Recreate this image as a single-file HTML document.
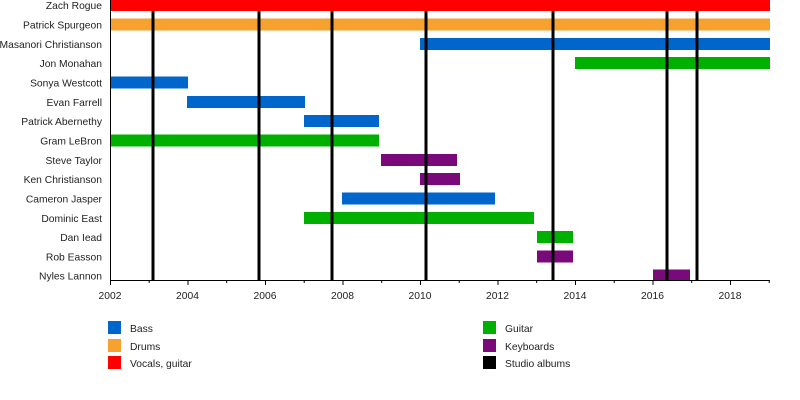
<!DOCTYPE html>
<html><head><meta charset="utf-8"><style>body{margin:0;background:#fff}svg{display:block}text{font-family:"Liberation Sans",sans-serif;font-size:10.3px;fill:#222}</style></head>
<body>
<svg width="800" height="400" xmlns="http://www.w3.org/2000/svg">
<g text-anchor="end">
<text x="102" y="9">Zach Rogue</text>
<text x="102" y="28.5">Patrick Spurgeon</text>
<text x="102" y="48">Masanori Christianson</text>
<text x="102" y="67">Jon Monahan</text>
<text x="102" y="86.5">Sonya Westcott</text>
<text x="102" y="106">Evan Farrell</text>
<text x="102" y="125">Patrick Abernethy</text>
<text x="102" y="144.5">Gram LeBron</text>
<text x="102" y="164">Steve Taylor</text>
<text x="102" y="183">Ken Christianson</text>
<text x="102" y="202.5">Cameron Jasper</text>
<text x="102" y="222">Dominic East</text>
<text x="102" y="241">Dan Iead</text>
<text x="102" y="260.5">Rob Easson</text>
<text x="102" y="279.5">Nyles Lannon</text>
</g>
<g>
<rect x="110" y="-1" width="660" height="12" fill="#ff0000"/>
<rect x="110" y="18.5" width="660" height="12" fill="#f7a12f"/>
<rect x="420" y="38" width="350" height="12" fill="#0066cc"/>
<rect x="575" y="57" width="195" height="12" fill="#00b000"/>
<rect x="110" y="76.5" width="78" height="12" fill="#0066cc"/>
<rect x="187" y="96" width="118" height="12" fill="#0066cc"/>
<rect x="304" y="115" width="75" height="12" fill="#0066cc"/>
<rect x="110" y="134.5" width="269" height="12" fill="#00b000"/>
<rect x="381" y="154" width="76" height="12" fill="#7a0a7a"/>
<rect x="420" y="173" width="40" height="12" fill="#7a0a7a"/>
<rect x="342" y="192.5" width="153" height="12" fill="#0066cc"/>
<rect x="304" y="212" width="230" height="12" fill="#00b000"/>
<rect x="537" y="231" width="36" height="12" fill="#00b000"/>
<rect x="537" y="250.5" width="36" height="12" fill="#7a0a7a"/>
<rect x="653" y="269.5" width="37" height="11" fill="#7a0a7a"/>
</g>
<g stroke="#000" stroke-width="3">
<line x1="153" y1="11" x2="153" y2="280"/>
<line x1="259" y1="11" x2="259" y2="280"/>
<line x1="332" y1="11" x2="332" y2="280"/>
<line x1="426" y1="11" x2="426" y2="280"/>
<line x1="553" y1="11" x2="553" y2="280"/>
<line x1="667" y1="11" x2="667" y2="280"/>
<line x1="697" y1="11" x2="697" y2="280"/>
</g>
<g stroke="#000" stroke-width="1">
<line x1="110" y1="280.5" x2="770" y2="280.5"/>
<line x1="110.5" y1="280" x2="110.5" y2="0"/>
<path d="M110.5 280v5M149.2 280v3M188 280v5M226.7 280v3M265.5 280v5M304.2 280v3M343 280v5M381.7 280v3M420.5 280v5M459.2 280v3M498 280v5M536.7 280v3M575.5 280v5M614.2 280v3M653 280v5M691.7 280v3M730.5 280v5M769.2 280v3"/>
</g>
<g text-anchor="middle">
<text x="110" y="299">2002</text>
<text x="187.5" y="299">2004</text>
<text x="265" y="299">2006</text>
<text x="342.5" y="299">2008</text>
<text x="420" y="299">2010</text>
<text x="497.5" y="299">2012</text>
<text x="575" y="299">2014</text>
<text x="652.5" y="299">2016</text>
<text x="730" y="299">2018</text>
</g>
<rect x="108" y="321" width="13" height="13" fill="#0066cc"/><text x="130" y="332">Bass</text>
<rect x="108" y="339" width="13" height="13" fill="#f7a12f"/><text x="130" y="350">Drums</text>
<rect x="108" y="356" width="13" height="13" fill="#ff0000"/><text x="130" y="367">Vocals, guitar</text>
<rect x="483" y="321" width="13" height="13" fill="#00b000"/><text x="505" y="332">Guitar</text>
<rect x="483" y="339" width="13" height="13" fill="#7a0a7a"/><text x="505" y="350">Keyboards</text>
<rect x="483" y="356" width="13" height="13" fill="#000"/><text x="505" y="367">Studio albums</text>
</svg>
</body></html>
